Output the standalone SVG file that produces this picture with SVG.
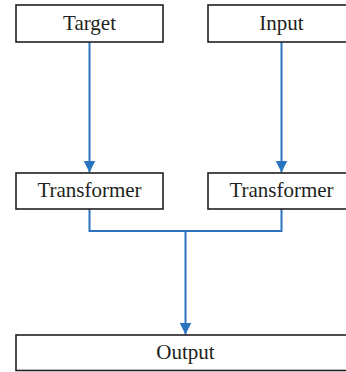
<svg xmlns="http://www.w3.org/2000/svg" width="346" height="372" viewBox="0 0 346 372">
<defs>
<style>
.box{fill:#fff;stroke:#231f20;stroke-width:1.6}
.lbl{font-family:"Liberation Serif","Times New Roman",serif;font-size:21px;fill:#231f20;text-anchor:middle}
.conn{fill:none;stroke:#2b74c0;stroke-width:2}
</style>
<marker id="ah" markerUnits="userSpaceOnUse" markerWidth="12" markerHeight="13" refX="12" refY="6" orient="auto" viewBox="0 0 12 12">
<path d="M0,0 L12,6 L0,12 Z" fill="#2b74c0"/>
</marker>
</defs>
<rect width="346" height="372" fill="#fff"/>
<g id="connectors">
<path class="conn" d="M89.5,42 V172.5" marker-end="url(#ah)"/>
<path class="conn" d="M281.5,42 V172.5" marker-end="url(#ah)"/>
<path class="conn" d="M89.5,209 V231 H281.5 V209"/>
<path class="conn" d="M185.5,231 V334.5" marker-end="url(#ah)"/>
</g>
<g id="target"><rect class="box" x="16" y="5" width="147" height="37"/><text class="lbl" x="89.5" y="29.5">Target</text></g>
<g id="input"><rect class="box" x="208" y="5" width="147" height="37"/><text class="lbl" x="281.5" y="29.5">Input</text></g>
<g id="transformer1"><rect class="box" x="16" y="173" width="147" height="36"/><text class="lbl" x="89.5" y="197">Transformer</text></g>
<g id="transformer2"><rect class="box" x="208" y="173" width="147" height="36"/><text class="lbl" x="281.5" y="197">Transformer</text></g>
<g id="output"><rect class="box" x="16" y="335" width="339" height="35.5"/><text class="lbl" x="185.5" y="359">Output</text></g>
</svg>
